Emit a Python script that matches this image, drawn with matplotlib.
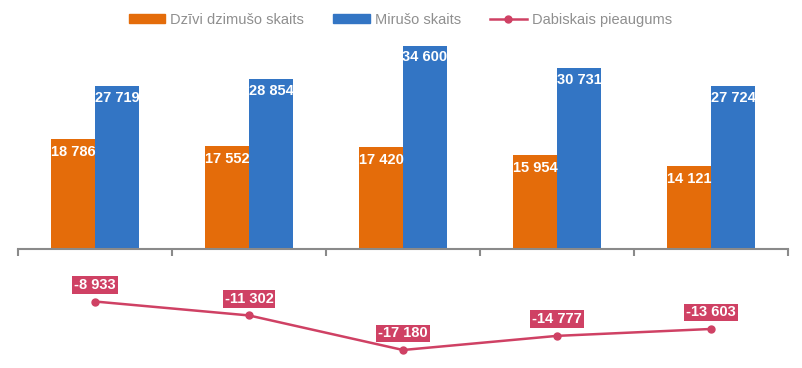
import numpy as np
import matplotlib
matplotlib.use("Agg")
import matplotlib.pyplot as plt
from matplotlib.lines import Line2D
from matplotlib.patches import Patch

plt.rcParams['font.family'] = ['Liberation Sans', 'DejaVu Sans']

# data
births = [18786, 17552, 17420, 15954, 14121]
deaths = [27719, 28854, 34600, 30731, 27724]
increase = [-8933, -11302, -17180, -14777, -13603]
series_names = ['Dzīvi dzimušo skaits', 'Mirušo skaits', 'Dabiskais pieaugums']

c_orange = '#E46C0A'
c_blue = '#3375C4'
c_line = '#CF4164'
c_axis = '#8A8A8A'


def fmt(v):
    # space as thousands separator
    s = f"{abs(v):,}".replace(",", " ")
    return ("-" if v < 0 else "") + s


fig = plt.figure(figsize=(8.02, 3.68), dpi=100)
ax = fig.add_axes([18 / 802, 0.0, 770 / 802, 328 / 368])

x = np.arange(len(births))
w = 0.285
ax.bar(x - w / 2, births, w, color=c_orange)
ax.bar(x + w / 2, deaths, w, color=c_blue)
ax.plot(x, increase, color=c_line, lw=1.8, marker='o', ms=5, zorder=3)

for i in range(len(x)):
    ax.annotate(fmt(births[i]), (x[i] - w / 2, births[i]), xytext=(0, -9.5),
                textcoords='offset points', ha='center', va='center',
                color='white', fontsize=10.5, fontweight='bold')
    ax.annotate(fmt(deaths[i]), (x[i] + w / 2, deaths[i]), xytext=(0, -8.5),
                textcoords='offset points', ha='center', va='center',
                color='white', fontsize=10.5, fontweight='bold')
    ax.annotate(fmt(increase[i]), (x[i], increase[i]), xytext=(0, 12),
                textcoords='offset points', ha='center', va='center',
                color='white', fontsize=10.5, fontweight='bold',
                bbox=dict(boxstyle='square,pad=0.12', fc=c_line, ec='none'))

ax.set_xlim(-0.5, len(x) - 0.5)
ax.set_ylim(-20240, 35540)

for s in ['top', 'right', 'left']:
    ax.spines[s].set_visible(False)
ax.spines['bottom'].set_position(('data', 0))
ax.spines['bottom'].set_color(c_axis)
ax.spines['bottom'].set_linewidth(1.5)
ax.set_xticks(np.arange(-0.5, len(x), 1.0))
ax.set_xticklabels([])
ax.tick_params(axis='x', direction='out', length=5, width=1.5, color=c_axis)
ax.set_yticks([])

handles = [Patch(color=c_orange), Patch(color=c_blue),
           Line2D([], [], color=c_line, lw=1.8, marker='o', ms=5)]
fig.legend(handles, series_names, loc='center', bbox_to_anchor=(0.499, 0.946),
           ncol=3, frameon=False, fontsize=10.5, labelcolor='#8F8F8F',
           handlelength=2.5, handleheight=0.55, handletextpad=0.35,
           columnspacing=2.0)

fig.savefig('out.png', dpi=100)
